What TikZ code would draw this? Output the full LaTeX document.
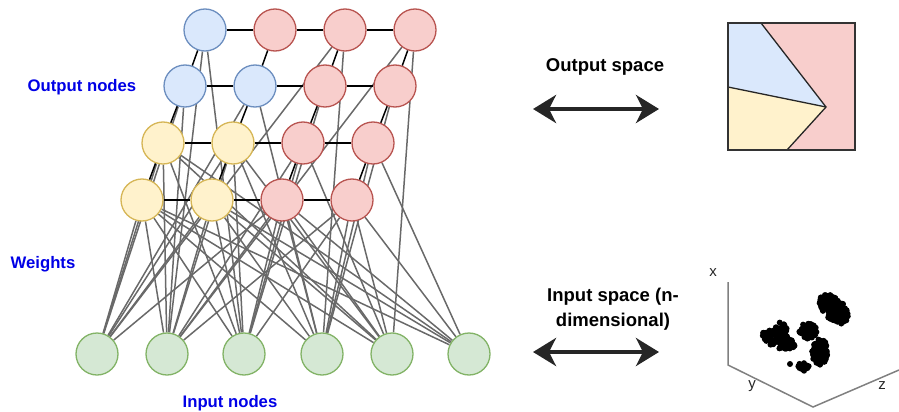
\documentclass[tikz,border=0pt]{standalone}
\usepackage{fontspec}
\setmainfont{Liberation Sans}
\usetikzlibrary{arrows.meta,backgrounds}
\definecolor{bluefill}{HTML}{DAE8FC}
\definecolor{blueline}{HTML}{6C8EBF}
\definecolor{redfill}{HTML}{F8CECC}
\definecolor{redline}{HTML}{B85450}
\definecolor{yellowfill}{HTML}{FFF2CC}
\definecolor{yellowline}{HTML}{D6B656}
\definecolor{greenfill}{HTML}{D5E8D4}
\definecolor{greenline}{HTML}{82B366}
\definecolor{labelblue}{RGB}{0,0,230}
\definecolor{wire}{RGB}{105,105,105}

\begin{document}
\begin{tikzpicture}[x=1pt,y=-1pt,
    neuron/.style={circle,draw,line width=1.3pt,minimum size=42pt,inner sep=0pt},
    outn/.style={neuron,fill=bluefill,draw=blueline},
    redn/.style={neuron,fill=redfill,draw=redline},
    yeln/.style={neuron,fill=yellowfill,draw=yellowline},
    inn/.style={neuron,fill=greenfill,draw=greenline},
    weight/.style={wire,line width=1.5pt},
    link/.style={black,line width=1.5pt},
    caption/.style={font=\fontsize{16.7}{19}\selectfont\bfseries,text=labelblue},
    title/.style={font=\fontsize{18.5}{25}\selectfont\bfseries,align=center},
    bigarrow/.style={line width=4.5pt,black!85,
        {Stealth[length=23pt,width=28pt,inset=7pt]}-{Stealth[length=23pt,width=28pt,inset=7pt]}},
    axisline/.style={black!50,line width=1.5pt},
    axislabel/.style={font=\fontsize{15}{18}\selectfont,text=black!85}]
    \useasboundingbox (0,0) rectangle (899,412);

    % map of output nodes
    \foreach \r/\y/\x/\cols in {1/30/205/{outn,redn,redn,redn},
                                2/86/185/{outn,outn,redn,redn},
                                3/143/163/{yeln,yeln,redn,redn},
                                4/200/142/{yeln,yeln,redn,redn}} {
        \foreach \s [count=\c] in \cols {
            \node[\s] (g\r\c) at ({\x+70*(\c-1)},\y) {};
        }
    }

    % input layer
    \foreach \x [count=\i] in {97,167,244,322,392,469} {
        \node[inn] (in\i) at (\x,354) {};
    }

    \begin{scope}[on background layer]
        \foreach \i/\targets in {1/{41,42,31,32,21,22,43,13},
                                 2/{41,42,31,32,11,21,43,33,44,14},
                                 3/{41,31,32,42,43,33,11,23,44},
                                 4/{41,42,32,43,44,34,13,24,22},
                                 5/{41,42,43,44,32,33,14,31},
                                 6/{41,42,43,44,34,31}} {
            \foreach \g in \targets {
                \draw[weight] (in\i) -- (g\g);
            }
        }
        \foreach \r in {1,...,4} {
            \foreach \c [evaluate=\c as \n using int(\c+1)] in {1,2,3} {
                \draw[link] (g\r\c) -- (g\r\n);
            }
        }
        \foreach \r [evaluate=\r as \n using int(\r+1)] in {1,2,3} {
            \foreach \c in {1,...,4} {
                \draw[link] (g\r\c) -- (g\n\c);
            }
        }
    \end{scope}

    \node[caption] (outnodes) at (82,87) {Output nodes};
    \node[caption] (weights) at (43,264) {Weights};
    \node[caption] (innodes) at (230,403) {Input nodes};

    % output space
    \node[title] (outtitle) at (605,67) {Output space};
    \coordinate (outL) at (533,109);
    \coordinate (outR) at (659,109);
    \draw[bigarrow] (outL) -- (outR);

    \fill[redfill] (728,23) rectangle (855,150);
    \fill[bluefill] (728,23) -- (761,23) -- (826,107) -- (728,87) -- cycle;
    \fill[yellowfill] (728,87) -- (826,107) -- (787,150) -- (728,150) -- cycle;
    \draw[black!85,line width=1.3pt] (761,23) -- (826,107) -- (787,150);
    \draw[black!85,line width=1.3pt] (728,87) -- (826,107);
    \draw[black!80,line width=1.6pt] (728,23) rectangle (855,150);

    % input space
    \node[title] (intitle) at (613,309) {Input space (n-\\dimensional)};
    \coordinate (inL) at (533,352);
    \coordinate (inR) at (659,352);
    \draw[bigarrow] (inL) -- (inR);

    \draw[axisline] (728,282) -- (728,365) -- (813,407) -- (899,370);
    \node[axislabel] (xlab) at (713,273) {x};
    \node[axislabel] (ylab) at (752,386) {y};
    \node[axislabel] (zlab) at (882,386) {z};

    % clusters: centre / radii / tilt / dots
    \pgfmathsetseed{5}
    \foreach \cx/\cy/\rx/\ry/\a/\n in {834/309/18/10/45/160, 779/339/17/9/20/110,
                                        781/328/6/6/0/25, 808/331/9/8/0/60,
                                        820/352/13/8/95/90, 804/367/6/4/20/15} {
        \foreach \k in {1,...,\n} {
            \pgfmathsetmacro\ang{360*rnd}
            \pgfmathsetmacro\rad{sqrt(rnd)}
            \pgfmathsetmacro\u{\rx*\rad*cos(\ang)}
            \pgfmathsetmacro\v{\ry*\rad*sin(\ang)}
            \fill ({\cx+\u*cos(\a)-\v*sin(\a)},{\cy+\u*sin(\a)+\v*cos(\a)}) circle[radius=3pt];
        }
    }
    \fill (790,364) circle[radius=3pt];
\end{tikzpicture}
\end{document}
